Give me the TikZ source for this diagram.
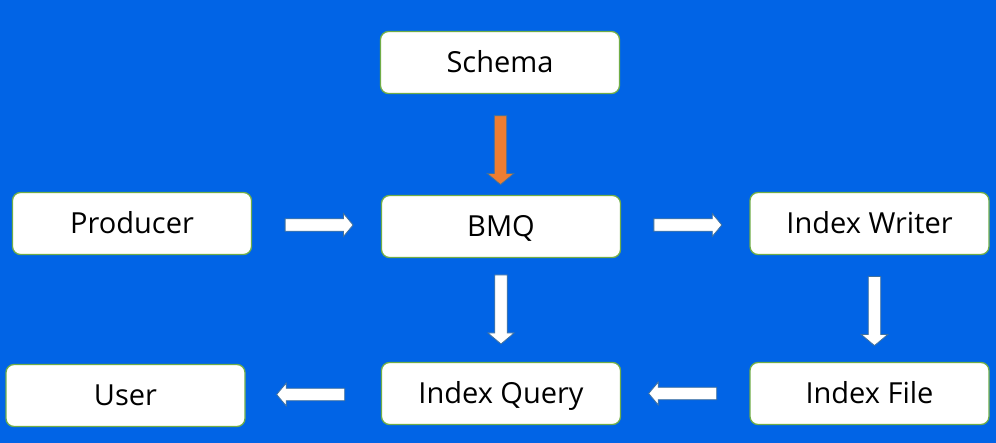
\documentclass[tikz,border=0pt]{standalone}
\usepackage{fontspec}
\setmainfont{Open Sans}
\usetikzlibrary{shapes.arrows,calc}

\definecolor{bgblue}{HTML}{0164E6}
\definecolor{boxline}{HTML}{70AD47}
\definecolor{arrowline}{HTML}{41719C}
\definecolor{orangefill}{HTML}{ED7D31}

\tikzset{
  stagebox/.style={draw=boxline, line width=1.3pt, fill=white, rounded corners=8pt,
    minimum width=239pt, minimum height=62pt, inner sep=0pt,
    text height=21pt, text depth=0pt,
    font=\fontsize{29}{29}\selectfont, text=black},
  flowarrow/.style={single arrow, draw=arrowline, line width=0.8pt, fill=white,
    inner sep=5.8pt, minimum width=22pt, single arrow head extend=5.2pt,
    single arrow tip angle=100, minimum height=68pt},
  downarrow/.style={flowarrow, shape border rotate=270, minimum width=25pt,
    single arrow head extend=7pt, minimum height=69pt},
  leftarrow/.style={flowarrow, shape border rotate=180},
}

\begin{document}
\begin{tikzpicture}[x=1pt, y=-1pt]
  \fill[bgblue] (0,0) rectangle (996,443);
  \useasboundingbox (0,0) rectangle (996,443);

  % stages of the pipeline
  \node[stagebox] (schema)   at (500,62.5)  {Schema};
  \node[stagebox] (producer) at (132,223.5) {Producer};
  \node[stagebox] (bmq)      at (501,226.5) {BMQ};
  \node[stagebox] (writer)   at (869.5,223.5) {Index Writer};
  \node[stagebox] (user)     at (125.5,395.5) {User};
  \node[stagebox] (query)    at (501,393.5) {Index Query};
  \node[stagebox] (file)     at (869.5,393.5) {Index File};

  % block arrows between the stages
  \node[downarrow, fill=orangefill] (a1) at ($(schema.south)!0.53!(bmq.north)$) {};
  \node[flowarrow] (a2) at ($(producer.east)!0.5!(bmq.west)$) {};
  \node[flowarrow] (a3) at ($(bmq.east)!0.5!(writer.west)$) {};
  \node[downarrow] (a4) at ($(bmq.south)!0.47!(query.north)$) {};
  \node[downarrow] (a5) at ($(writer.south)!0.5!(file.north)+(5,0)$) {};
  \node[leftarrow] (a6) at ($(file.west)!0.5!(query.east)$) {};
  \node[leftarrow] (a7) at ($(query.west)!0.5!(user.east)$) {};
\end{tikzpicture}
\end{document}
